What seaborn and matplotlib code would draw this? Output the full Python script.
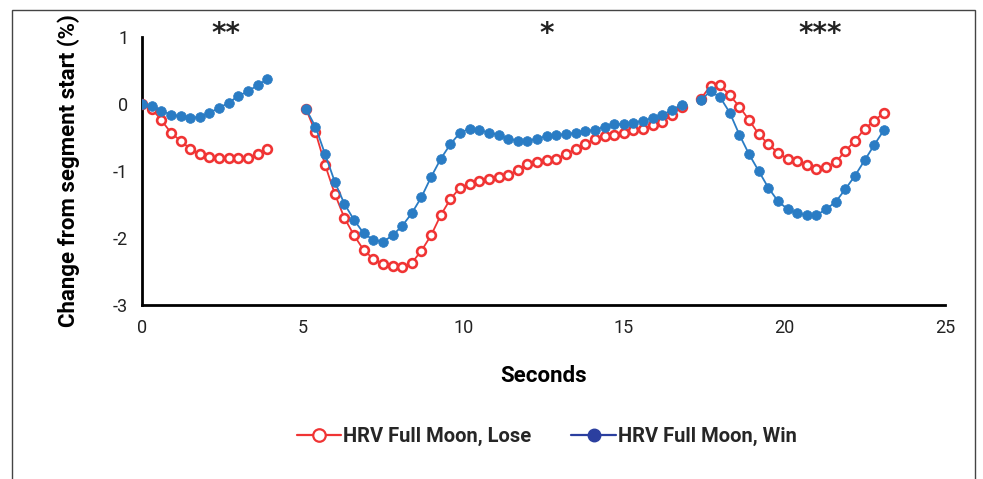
import numpy as np
import pandas as pd
import matplotlib
matplotlib.use("Agg")
import matplotlib.pyplot as plt
from matplotlib.lines import Line2D
from matplotlib.patches import Rectangle
import seaborn as sns

# ---------------- data ----------------
seg_starts = [0.0, 5.1, 17.4]
step = 0.3

lose_seg1 = [0.0, -0.07, -0.24, -0.43, -0.55, -0.67, -0.75, -0.79, -0.80, -0.80,
             -0.80, -0.80, -0.75, -0.67]
win_seg1 = [0.0, -0.03, -0.10, -0.16, -0.18, -0.21, -0.19, -0.13, -0.06, 0.02,
            0.12, 0.19, 0.28, 0.37]

lose_seg2 = [-0.07, -0.42, -0.91, -1.34, -1.70, -1.96, -2.18, -2.31, -2.39, -2.42,
             -2.43, -2.37, -2.19, -1.96, -1.66, -1.42, -1.25, -1.19, -1.15, -1.12,
             -1.09, -1.06, -0.99, -0.90, -0.87, -0.84, -0.82, -0.75, -0.67, -0.60,
             -0.52, -0.48, -0.46, -0.43, -0.39, -0.37, -0.31, -0.27, -0.16, -0.04]
win_seg2 = [-0.07, -0.34, -0.75, -1.16, -1.49, -1.73, -1.93, -2.03, -2.06, -1.96,
            -1.82, -1.63, -1.39, -1.09, -0.82, -0.60, -0.43, -0.37, -0.39, -0.43,
            -0.46, -0.52, -0.55, -0.55, -0.52, -0.48, -0.46, -0.45, -0.43, -0.40,
            -0.39, -0.34, -0.30, -0.30, -0.28, -0.25, -0.21, -0.16, -0.09, -0.01]

lose_seg3 = [0.08, 0.27, 0.28, 0.13, -0.04, -0.24, -0.45, -0.60, -0.73, -0.82,
             -0.85, -0.91, -0.97, -0.94, -0.87, -0.70, -0.55, -0.37, -0.25, -0.13]
win_seg3 = [0.06, 0.19, 0.10, -0.13, -0.46, -0.75, -1.00, -1.25, -1.45, -1.57,
            -1.63, -1.66, -1.66, -1.57, -1.46, -1.27, -1.07, -0.84, -0.61, -0.39]

series_names = ["HRV Full Moon, Lose", "HRV Full Moon, Win"]
sig_labels = ["**", "*", "***"]
sig_x = [2.6, 12.6, 21.1]

x_ticks = [0, 5, 10, 15, 20, 25]
y_ticks = [-3, -2, -1, 0, 1]

# ---------------- build frame ----------------
rows = []
for name, segs in zip(series_names, [[lose_seg1, lose_seg2, lose_seg3],
                                     [win_seg1, win_seg2, win_seg3]]):
    for si, (start, vals) in enumerate(zip(seg_starts, segs)):
        for i, v in enumerate(vals):
            rows.append({"series": name, "segment": si,
                         "t": round(start + step * i, 3), "value": v})
df = pd.DataFrame(rows)

# ---------------- style ----------------
sns.set_theme(style="white")
plt.rcParams["font.family"] = ["Roboto", "DejaVu Sans"]

fig = plt.figure(figsize=(9.83, 4.79), dpi=100)
ax = fig.add_axes([0.1445, 0.3633, 0.9613 - 0.1445, 0.9228 - 0.3633])

red = "#f03434"
blue = "#2a7cc4"
navy = "#2b3f9f"

sns.lineplot(data=df[df.series == series_names[0]], x="t", y="value",
             units="segment", estimator=None, ax=ax, color=red, lw=1.3,
             marker="o", markersize=6.3, markerfacecolor="white",
             markeredgecolor=red, markeredgewidth=1.9, legend=False, zorder=3)
sns.lineplot(data=df[df.series == series_names[1]], x="t", y="value",
             units="segment", estimator=None, ax=ax, color=blue, lw=1.3,
             marker="o", markersize=7, markerfacecolor=blue,
             markeredgecolor=blue, markeredgewidth=0.5, legend=False, zorder=4)

ax.set_xlim(0, 25)
ax.set_ylim(-3, 1)
ax.set_xticks(x_ticks)
ax.set_yticks(y_ticks)
ax.set_xticklabels([str(v) for v in x_ticks])
ax.set_yticklabels([str(v) for v in y_ticks])
for s in ["top", "right"]:
    ax.spines[s].set_visible(False)
for s in ["left", "bottom"]:
    ax.spines[s].set_color("black")
    ax.spines[s].set_linewidth(2.0)
ax.tick_params(axis="both", direction="out", length=6, width=1.2, color="black",
               labelsize=13, labelcolor="#222222", pad=4)
ax.set_xlabel("Seconds", fontsize=16, fontweight="bold", labelpad=20, color="black")
ax.set_ylabel("Change from segment start (%)", fontsize=16, fontweight="bold",
              labelpad=24, color="black")
ax.patch.set_alpha(0)

for lab, xx in zip(sig_labels, sig_x):
    ax.text(xx, 1.04, lab, ha="center", va="center", fontsize=20,
            fontweight="bold", color="#222222", family=["DejaVu Sans"],
            clip_on=False)

handles = [
    Line2D([0], [0], color=red, lw=1.6, marker="o", markersize=9,
           markerfacecolor="white", markeredgecolor=red, markeredgewidth=1.6),
    Line2D([0], [0], color=navy, lw=1.6, marker="o", markersize=9,
           markerfacecolor=navy, markeredgecolor=navy),
]
leg = fig.legend(handles, series_names, loc="center", bbox_to_anchor=(0.556, 0.088),
                 ncol=2, frameon=False, handlelength=2.2, handletextpad=0.1,
                 columnspacing=2.0, prop={"size": 14.5, "weight": "bold"})

# outer frame
fig.patches.append(Rectangle((12 / 983, -0.05), 963 / 983, 1.05 - 10 / 479,
                             transform=fig.transFigure, fill=False,
                             edgecolor="#444444", lw=1.0))

fig.savefig("out.png", dpi=100)
